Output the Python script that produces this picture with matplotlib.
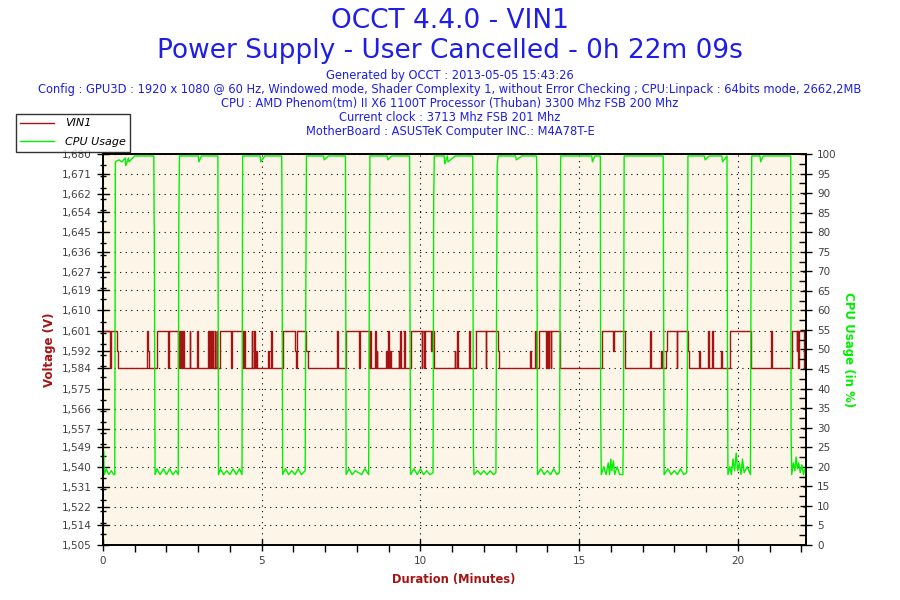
import matplotlib
matplotlib.use('Agg')
import matplotlib.pyplot as plt
from matplotlib.ticker import MultipleLocator, FixedLocator, FuncFormatter

# header texts
title1 = 'OCCT 4.4.0 - VIN1'
title2 = 'Power Supply - User Cancelled - 0h 22m 09s'
info_lines = [
    'Generated by OCCT : 2013-05-05 15:43:26',
    'Config : GPU3D : 1920 x 1080 @ 60 Hz, Windowed mode, Shader Complexity 1, without Error Checking ; CPU:Linpack : 64bits mode, 2662,2MB',
    'CPU : AMD Phenom(tm) II X6 1100T Processor (Thuban) 3300 Mhz FSB 200 Mhz',
    'Current clock : 3713 Mhz FSB 201 Mhz',
    'MotherBoard : ASUSTeK Computer INC.: M4A78T-E',
]

# voltage ticks
volt_ticks = [1.505, 1.514, 1.522, 1.531, 1.540, 1.549, 1.557, 1.566, 1.575, 1.584, 1.592,
              1.601, 1.610, 1.619, 1.627, 1.636, 1.645, 1.654, 1.662, 1.671, 1.680]

# VIN1 (V), step changes: time in minutes
volt_time = [0.00, 0.23, 0.26, 0.44, 0.47, 1.39, 1.42, 1.45, 1.70, 2.05, 2.07, 2.37, 2.41, 2.43,
             2.46, 2.48, 2.52, 2.54, 2.73, 2.75, 2.97, 2.99, 3.31, 3.33, 3.37, 3.40, 3.44, 3.48,
             3.52, 3.54, 3.58, 3.60, 3.70, 4.04, 4.06, 4.42, 4.44, 4.47, 4.68, 4.70, 4.75, 4.78,
             4.82, 4.85, 5.21, 5.24, 5.30, 5.33, 5.68, 6.04, 6.07, 6.11, 6.41, 6.45, 7.37, 7.39,
             7.66, 8.07, 8.10, 8.39, 8.42, 8.44, 8.57, 8.59, 8.62, 8.64, 8.93, 8.95, 8.98, 9.01,
             9.04, 9.06, 9.32, 9.34, 9.37, 9.39, 9.49, 9.51, 9.70, 10.04, 10.06, 10.11, 10.14,
             10.35, 10.37, 10.42, 11.08, 11.10, 11.15, 11.17, 11.53, 11.57, 11.74, 12.06, 12.08,
             12.45, 12.48, 13.44, 13.47, 13.60, 13.63, 13.74, 13.97, 13.99, 14.03, 14.06, 14.10,
             14.13, 14.41, 15.72, 16.07, 16.09, 16.45, 17.25, 17.27, 17.57, 17.60, 17.74, 17.77,
             18.07, 18.10, 18.43, 18.46, 18.77, 18.80, 19.06, 19.08, 19.19, 19.22, 19.48, 19.50,
             19.74, 20.43, 21.05, 21.07, 21.70, 21.86, 21.88, 21.91, 21.93, 22.10, 22.15]
volt_vals = [1.601, 1.584, 1.601, 1.592, 1.584, 1.601, 1.592, 1.584, 1.601, 1.584, 1.601, 1.584,
             1.601, 1.584, 1.601, 1.584, 1.601, 1.584, 1.601, 1.584, 1.601, 1.584, 1.601, 1.584,
             1.601, 1.584, 1.601, 1.584, 1.601, 1.584, 1.601, 1.584, 1.601, 1.584, 1.601, 1.584,
             1.601, 1.584, 1.601, 1.584, 1.601, 1.584, 1.592, 1.584, 1.592, 1.584, 1.601, 1.584,
             1.601, 1.592, 1.584, 1.601, 1.592, 1.584, 1.601, 1.584, 1.601, 1.584, 1.601, 1.584,
             1.601, 1.584, 1.601, 1.584, 1.592, 1.584, 1.592, 1.584, 1.601, 1.584, 1.592, 1.584,
             1.592, 1.584, 1.601, 1.584, 1.601, 1.584, 1.601, 1.584, 1.601, 1.584, 1.601, 1.592,
             1.601, 1.584, 1.592, 1.584, 1.601, 1.584, 1.601, 1.584, 1.601, 1.584, 1.601, 1.592,
             1.584, 1.592, 1.584, 1.601, 1.584, 1.601, 1.584, 1.601, 1.584, 1.601, 1.584, 1.601,
             1.584, 1.601, 1.592, 1.601, 1.584, 1.601, 1.584, 1.592, 1.584, 1.592, 1.601, 1.584,
             1.601, 1.592, 1.584, 1.592, 1.584, 1.601, 1.584, 1.601, 1.584, 1.592, 1.584, 1.601,
             1.584, 1.601, 1.584, 1.601, 1.592, 1.601, 1.584, 1.601, 1.584, 1.584]

# CPU usage (%)
cpu_time = [0.00, 0.02, 0.04, 0.10, 0.18, 0.26, 0.34, 0.37, 0.39, 0.50, 0.60, 0.70, 0.72, 0.80,
            0.82, 1.00, 1.20, 1.40, 1.60, 1.62, 1.64, 1.70, 1.80, 1.90, 2.00, 2.10, 2.20, 2.30,
            2.37, 2.39, 2.41, 2.60, 2.80, 3.00, 3.02, 3.10, 3.30, 3.50, 3.62, 3.64, 3.70, 3.80,
            3.90, 4.00, 4.10, 4.20, 4.30, 4.38, 4.40, 4.60, 4.80, 4.95, 4.97, 5.10, 5.30, 5.50,
            5.63, 5.64, 5.66, 5.75, 5.85, 5.95, 6.05, 6.15, 6.25, 6.37, 6.39, 6.41, 6.60, 6.80,
            6.95, 6.97, 7.10, 7.30, 7.50, 7.64, 7.66, 7.75, 7.85, 7.95, 8.05, 8.15, 8.25, 8.37,
            8.39, 8.41, 8.60, 8.80, 8.95, 8.97, 9.10, 9.30, 9.50, 9.66, 9.67, 9.69, 9.80, 9.90,
            10.00, 10.10, 10.20, 10.30, 10.40, 10.42, 10.44, 10.60, 10.75, 10.77, 10.85, 10.87,
            11.10, 11.30, 11.50, 11.65, 11.67, 11.69, 11.80, 11.90, 12.00, 12.10, 12.20, 12.30,
            12.38, 12.40, 12.42, 12.45, 12.60, 12.80, 13.00, 13.02, 13.20, 13.40, 13.66, 13.67,
            13.69, 13.80, 13.90, 14.00, 14.10, 14.20, 14.30, 14.38, 14.40, 14.42, 14.60, 14.80,
            15.00, 15.20, 15.40, 15.42, 15.50, 15.67, 15.68, 15.70, 15.78, 15.85, 15.92, 15.96,
            16.00, 16.03, 16.08, 16.12, 16.20, 16.28, 16.38, 16.40, 16.42, 16.60, 16.80, 17.00,
            17.20, 17.40, 17.65, 17.66, 17.68, 17.80, 17.90, 18.00, 18.10, 18.20, 18.30, 18.39,
            18.41, 18.43, 18.60, 18.80, 18.95, 18.97, 19.10, 19.30, 19.50, 19.52, 19.66, 19.67,
            19.69, 19.75, 19.80, 19.85, 19.90, 19.95, 20.00, 20.05, 20.10, 20.15, 20.20, 20.30,
            20.40, 20.42, 20.44, 20.60, 20.70, 20.72, 20.80, 21.00, 21.20, 21.40, 21.67, 21.68,
            21.70, 21.75, 21.80, 21.84, 21.88, 21.92, 21.97, 22.02, 22.07, 22.12, 22.15]
cpu_vals = [19, 24, 18, 19.5, 18, 19, 18, 18, 98, 98.5, 98, 99, 97, 99,
            98, 99.5, 99.5, 99.5, 99.5, 74, 18, 19.5, 18, 19.5, 18, 19.5, 18, 19,
            18, 85, 99.5, 99.5, 99.5, 99.5, 98, 99.5, 99.5, 99.5, 99.5, 18, 19.5, 18,
            19, 18, 19.5, 18, 19.5, 18, 99.5, 99.5, 99.5, 99.5, 98, 99.5, 99.5, 99.5,
            99.5, 88, 18, 19.5, 18, 19, 18, 19.5, 18, 19, 63.5, 99.5, 99.5, 99.5,
            99.5, 98.5, 99.5, 99.5, 99.5, 99.5, 18, 19.5, 18, 19, 18.5, 18, 19.5, 18,
            63, 99.5, 99.5, 99.5, 99.5, 98.5, 99.5, 99.5, 99.5, 99.5, 68.5, 18, 19.5, 18,
            19.5, 18, 19, 18, 18.5, 89, 99.5, 99.5, 99.5, 97.5, 99.5, 98,
            99.5, 99.5, 99.5, 99.5, 24, 18, 19, 18, 19, 18, 19, 18,
            18.5, 57, 97, 99.5, 99.5, 99.5, 99.5, 98.5, 99.5, 99.5, 99.5, 94,
            18, 19.5, 18, 19, 18, 19.5, 18, 18.5, 61, 99.5, 99.5, 99.5,
            99.5, 99.5, 99.5, 98, 99.5, 99.5, 35, 18, 20, 18, 21, 18,
            22, 19, 21.5, 18, 20, 18, 18, 33, 99.5, 99.5, 99.5, 99.5,
            99.5, 99.5, 99.5, 74, 18, 19.5, 18, 19, 18, 19.5, 18, 18.5,
            38, 99.5, 99.5, 99.5, 99.5, 98.5, 99.5, 99.5, 99.5, 98, 99.5, 66,
            18, 20, 18, 22, 19, 23.5, 19, 21, 18, 22, 18.5, 20,
            18, 76, 99.5, 99.5, 99.5, 98, 99.5, 99.5, 99.5, 99.5, 99.5, 29,
            18, 21, 19, 22.5, 19.5, 21, 18.5, 20.5, 18, 19.5, 18]

blue = '#1E1EE6'
red = '#A51414'
green = '#00F000'
tick_col = '#404040'

fig = plt.figure(figsize=(9, 6), dpi=100)
ax = fig.add_axes([103/900, 55/600, 703/900, 391/600])
ax.set_facecolor('#FDF6E8')
ax2 = ax.twinx()

l1, = ax.plot(volt_time, volt_vals, drawstyle='steps-post', color=red, lw=1.0, label='VIN1')
l2, = ax2.plot(cpu_time, cpu_vals, color=green, lw=1.0, label='CPU Usage')

ax.set_xlim(0, 22.15)
ax.set_ylim(1.505, 1.680)
ax2.set_ylim(0, 100)

ax.yaxis.set_major_locator(FixedLocator(volt_ticks))
ax.yaxis.set_major_formatter(FuncFormatter(lambda v, p: f'{v:.3f}'.replace('.', ',')))
ax.yaxis.set_minor_locator(MultipleLocator(0.005))
ax.xaxis.set_major_locator(MultipleLocator(5))
ax.xaxis.set_minor_locator(MultipleLocator(1))
ax2.yaxis.set_major_locator(MultipleLocator(5))
ax2.yaxis.set_minor_locator(MultipleLocator(2.5))

ax.tick_params(axis='both', which='major', direction='inout', length=9, width=1,
               labelsize=7.5, labelcolor=tick_col)
ax.tick_params(axis='y', which='minor', direction='inout', length=5, width=1)
ax.tick_params(axis='x', which='minor', direction='out', length=5, width=1)
ax2.tick_params(axis='y', which='major', direction='inout', length=9, width=1,
                labelsize=7.5, labelcolor=tick_col)
ax2.tick_params(axis='y', which='minor', direction='in', length=5, width=1)

ax.grid(True, which='major', color='black', linestyle=(0, (1, 4)), linewidth=0.8)
ax.set_axisbelow(True)
for a in (ax, ax2):
    for s in a.spines.values():
        s.set_linewidth(1.2)

fig.text(50/900, 1 - 350/600, 'Voltage (V)', rotation=90, color=red, fontsize=8.5,
         fontweight='bold', ha='center', va='center')
fig.text(848/900, 1 - 350/600, 'CPU Usage (in %)', rotation=-90, color=green, fontsize=8.5,
         fontweight='bold', ha='center', va='center')
fig.text(454/900, 1 - 580/600, 'Duration (Minutes)', color=red, fontsize=8.3,
         fontweight='bold', ha='center', va='center')

fig.text(450/900, 1 - 21/600, title1, color=blue, fontsize=19, ha='center', va='center')
fig.text(450/900, 1 - 51/600, title2, color=blue, fontsize=19, ha='center', va='center')
for i, line in enumerate(info_lines):
    fig.text(450/900, 1 - (75 + i*14.2)/600, line, color=blue, fontsize=8.3,
             ha='center', va='center')

leg = fig.legend(handles=[l1, l2], loc='upper left', bbox_to_anchor=(16/900, 1 - 114/600),
                 frameon=True, fancybox=False, edgecolor='black',
                 prop={'style': 'italic', 'size': 8}, handlelength=3.0,
                 borderpad=0.4, labelspacing=0.8, borderaxespad=0, handletextpad=1.0)
leg.get_frame().set_linewidth(1)

fig.savefig('out.png', dpi=100)
